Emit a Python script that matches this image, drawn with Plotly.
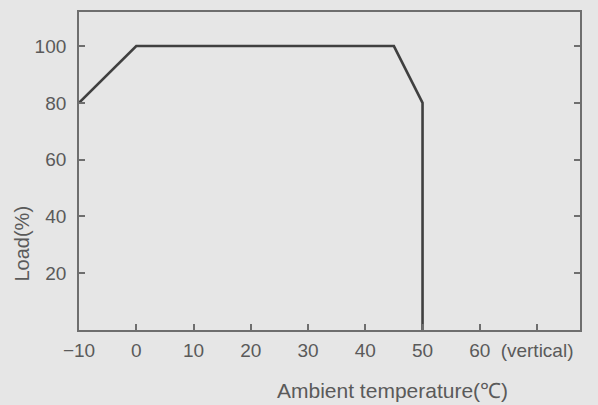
import plotly.graph_objects as go

temps = [-10, 0, 45, 50, 50]
loads = [80, 100, 100, 80, 0]

x_tickvals = [-10, 0, 10, 20, 30, 40, 50, 60, 70]
x_ticktext = ["\u221210", "0", "10", "20", "30", "40", "50", "60", "(vertical)"]
y_tickvals = [20, 40, 60, 80, 100]
y_ticktext = ["20", "40", "60", "80", "100"]

bg = "#e6e6e6"
axis_col = "#6e6e6e"
text_col = "#5a5a5a"
font_family = "Liberation Sans, Arial, sans-serif"

fig = go.Figure()
fig.add_trace(go.Scatter(x=temps, y=loads, mode="lines",
                         line=dict(color="#404040", width=2.6),
                         showlegend=False, hoverinfo="skip"))

fig.update_layout(
    width=598, height=405,
    paper_bgcolor=bg, plot_bgcolor=bg,
    margin=dict(l=79, r=18, t=10, b=75),
    font=dict(family=font_family, size=20, color=text_col),
    showlegend=False,
)
fig.update_xaxes(range=[-10, 77.5], tickvals=x_tickvals, ticktext=x_ticktext,
                 ticks="inside", ticklen=6, tickwidth=1.5, tickcolor=axis_col,
                 showline=True, linecolor=axis_col, linewidth=1.8, mirror=True,
                 showgrid=False, zeroline=False, ticklabelstandoff=2,
                 tickfont=dict(size=19, color=text_col))
fig.update_yaxes(range=[0, 112], tickvals=y_tickvals, ticktext=y_ticktext,
                 ticks="inside", ticklen=6, tickwidth=1.5, tickcolor=axis_col,
                 showline=True, linecolor=axis_col, linewidth=1.8, mirror="ticks",
                 showgrid=False, zeroline=False, ticklabelstandoff=7,
                 tickfont=dict(size=19, color=text_col))

fig.add_annotation(text="Load(%)", xref="paper", yref="paper",
                   x=-(79 - 22) / 501, y=(330 - 243) / 320, xanchor="center", yanchor="middle",
                   textangle=-90, showarrow=False,
                   font=dict(size=20, color=text_col))
fig.add_annotation(text="Ambient temperature(\u2103)", xref="paper", yref="paper",
                   x=(392 - 79) / 501, y=-(391 - 330) / 320, xanchor="center", yanchor="middle",
                   showarrow=False, font=dict(size=21, color=text_col))

fig.write_html("out.html", config={"displayModeBar": False},
               post_script="document.body.style.margin='0';document.body.style.overflow='hidden';")
